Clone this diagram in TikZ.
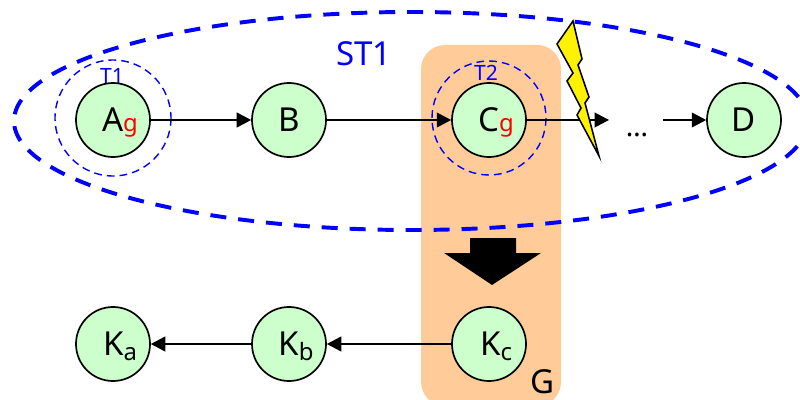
\documentclass[tikz,border=0pt]{standalone}
\usepackage{fontspec}
\setmainfont{Noto Sans}
\usetikzlibrary{arrows.meta}
\definecolor{nodegreen}{RGB}{204,255,204}
\definecolor{groupfill}{RGB}{255,204,153}
\newcommand{\subbed}[3]{\hspace*{0.35cm}#2\smash{\raisebox{#1}{\fontsize{17}{17}\selectfont #3}}}
\tikzset{
  vertex/.style={circle,draw=black,line width=1.2pt,fill=nodegreen,minimum size=1.85cm,inner sep=0pt,font=\fontsize{23.5}{23.5}\selectfont},
  edge/.style={-{Triangle[length=0.36cm,width=0.37cm]},line width=1.1pt,black},
  txscope/.style={draw=blue,line width=1pt,dash pattern=on 5.5pt off 3.6pt},
  stscope/.style={draw=blue,line width=2.8pt,dash pattern=on 11.4pt off 8.5pt},
  txlabel/.style={text=blue,font=\fontsize{15}{15}\selectfont,inner sep=0pt},
  biglabel/.style={font=\fontsize{23.5}{23.5}\selectfont,inner sep=0pt}
}
\begin{document}
\begin{tikzpicture}[x=0.025cm,y=-0.025cm]
    \useasboundingbox (0,0) rectangle (800,400);

    % group G behind the C column
    \fill[groupfill,rounded corners=0.6cm] (421,45) rectangle (561,406);
    \node[biglabel] (G) at (543,382) {G};

    % scopes
    \draw[stscope] (411,121) ellipse (397 and 109);
    \node[biglabel,text=blue] (ST1) at (364,54) {ST1};
    \draw[txscope] (113,118) circle (58);
    \draw[txscope] (489,118) circle (57);
    \node[txlabel] (T1) at (112,76) {T1};
    \node[txlabel] (T2) at (486,73) {T2};

    % upper chain
    \node[vertex] (A) at (113,120) {\subbed{0pt}{A}{\color{red}g}};
    \node[vertex] (B) at (289,120) {B};
    \node[vertex] (C) at (489,120) {\subbed{0pt}{C}{\color{red}g}};
    \node[vertex] (D) at (744,120) {D};
    \node[font=\fontsize{20}{20}\selectfont,inner sep=0pt] (dots) at (637,135) {…};
    \coordinate (dotsin) at (609,120);
    \coordinate (dotsout) at (663,120);
    \draw[edge] (A) -- (B);
    \draw[edge] (B) -- (C);
    \draw[edge] (C) -- (dotsin);
    \draw[edge] (dotsout) -- (D);

    % lightning
    \draw[fill=yellow,line width=1.1pt,miter limit=20] (573,21) -- (582,59) -- (578,65) -- (589,97)
        -- (585,103) -- (599,156) -- (577,115) -- (581,108) -- (567,81) -- (573,73) -- (557,44) -- cycle;

    % block arrow
    \fill (470,238) -- (516,238) -- (516,253) -- (541,253) -- (492,285) -- (444,253) -- (470,253) -- cycle;

    % lower chain
    \node[vertex] (Ka) at (113,344) {\subbed{-0.12cm}{K}{a}};
    \node[vertex] (Kb) at (289,344) {\subbed{-0.12cm}{K}{b}};
    \node[vertex] (Kc) at (489,344) {\subbed{-0.12cm}{K}{c}};
    \draw[edge] (Kc) -- (Kb);
    \draw[edge] (Kb) -- (Ka);
\end{tikzpicture}
\end{document}
